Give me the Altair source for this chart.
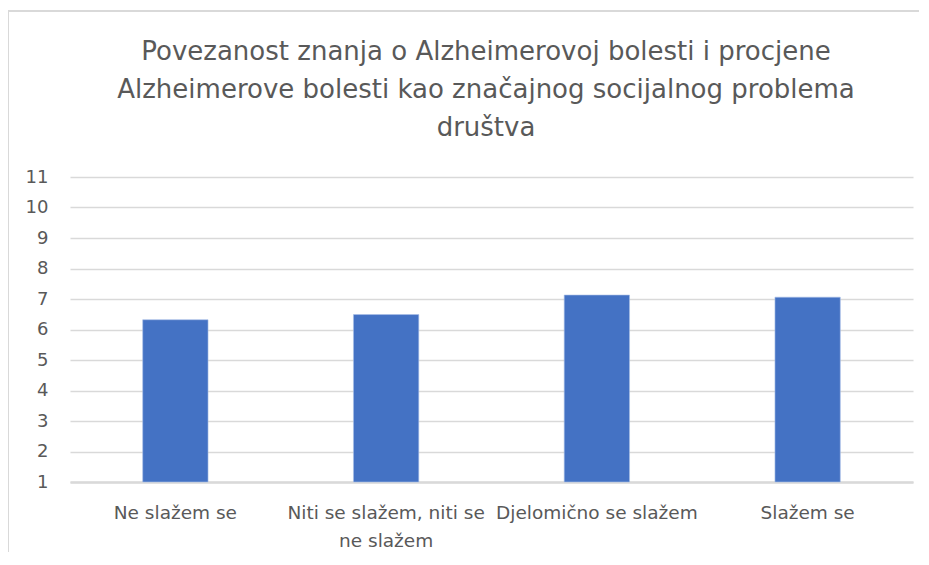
import altair as alt
import pandas as pd

categories = ["Ne slažem se", "Niti se slažem, niti se ne slažem", "Djelomično se slažem", "Slažem se"]
values = [6.32, 6.49, 7.13, 7.06]
y_ticks = list(range(1, 12))
title_text = ("Povezanost znanja o Alzheimerovoj bolesti i procjene\n"
              "Alzheimerove bolesti kao značajnog socijalnog problema\n"
              "društva")

df = pd.DataFrame({"kategorija": categories, "vrijednost": values})

W, H = 843, 305
PAD = {"left": 62, "top": 169, "right": 6, "bottom": 70}
FONT = "DejaVu Sans"
TXT = "#595959"
GRID = "#d9d9d9"

label_expr = ("datum.label == 'Niti se slažem, niti se ne slažem' ? "
              "['Niti se slažem, niti se', 'ne slažem'] : datum.label")

bars = alt.Chart(df).mark_bar(color="#4472C4", stroke="#a9c0e8", strokeWidth=0.6).encode(
    x=alt.X("kategorija:N", sort=categories, title=None,
            scale=alt.Scale(paddingInner=0.69, paddingOuter=0.345),
            axis=alt.Axis(labelAngle=0, labelExpr=label_expr, labelFont=FONT, labelFontSize=18.5,
                          labelColor=TXT, labelPadding=21, labelLineHeight=28, ticks=False,
                          domainColor=GRID, domainWidth=2.5, labelLimit=300)),
    y=alt.Y("vrijednost:Q", title=None,
            scale=alt.Scale(domain=[1, 11], nice=False, zero=False),
            axis=alt.Axis(values=y_ticks, labelFont=FONT, labelFontSize=18, labelColor=TXT,
                          labelPadding=22, ticks=False, domain=False, gridColor=GRID,
                          gridWidth=1.3)),
    y2=alt.datum(1),
)

frame_v = alt.Chart(df).mark_rule(color=GRID, strokeWidth=1.3).encode(
    x=alt.value(-62), y=alt.value(-166), y2=alt.value(H + 80))
frame_h = alt.Chart(df).mark_rule(color=GRID, strokeWidth=1.3).encode(
    x=alt.value(-62), x2=alt.value(W + 20), y=alt.value(-166))

title = alt.Chart(df).transform_filter(alt.datum.kategorija == categories[0]).mark_text(
    font=FONT, fontSize=26, color=TXT, align="center", baseline="alphabetic",
    lineBreak="\n", lineHeight=38) .encode(
    x=alt.value(416), y=alt.value(-117), text=alt.value(title_text))

chart = alt.layer(frame_v, frame_h, title, bars).properties(
    width=W, height=H,
    autosize=alt.AutoSizeParams(type="none"),
    padding=PAD,
    background="white",
).configure_view(strokeWidth=0)

chart.save("out.html", embed_options={"renderer": "svg", "actions": False})
